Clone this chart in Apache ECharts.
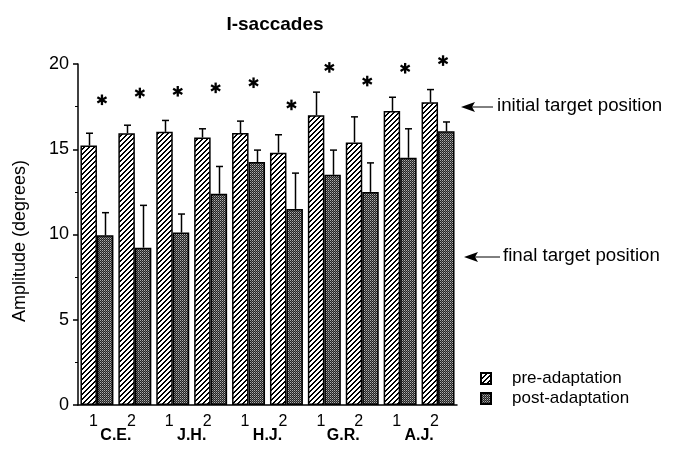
<!DOCTYPE html>
<html>
<head>
<meta charset="utf-8">
<script src="https://cdn.jsdelivr.net/npm/echarts@6/dist/echarts.min.js"></script>
<style>
  html, body { margin: 0; padding: 0; background: #fff; }
  #chart { width: 676px; height: 453px; }
</style>
</head>
<body>
<div id="chart"></div>
<script>
'use strict';

// condition index within each subject (1, 2)
var categories = ['1', '2', '1', '2', '1', '2', '1', '2', '1', '2'];
var subjects = ['C.E.', 'J.H.', 'H.J.', 'G.R.', 'A.J.'];

// mean amplitude (deg) and upper error (SD)
var preMean = [15.22, 15.94, 16.02, 15.69, 15.95, 14.8, 17.0, 15.4, 17.25, 17.75];
var preSD = [0.72, 0.47, 0.67, 0.51, 0.7, 1.05, 1.35, 1.5, 0.8, 0.75];
var postMean = [9.95, 9.23, 10.11, 12.39, 14.25, 11.5, 13.5, 12.5, 14.5, 16.05];
var postSD = [1.33, 2.48, 1.09, 1.6, 0.7, 2.1, 1.45, 1.7, 1.7, 0.55];

// height of the significance asterisks
var starLevel = [17.9, 18.3, 18.4, 18.6, 18.9, 17.6, 19.8, 19.0, 19.75, 20.2];

var FONT = '"Liberation Sans", Arial, Helvetica, sans-serif';
var GAP = 0.13;

// hatched / cross-hatched fills, drawn pixel by pixel
function makePattern(size, pick) {
    var c = document.createElement('canvas');
    c.width = size; c.height = size;
    var ctx = c.getContext('2d');
    var img = ctx.createImageData(size, size);
    for (var y = 0; y < size; y++) {
        for (var x = 0; x < size; x++) {
            var v = pick(x, y);
            var k = (y * size + x) * 4;
            img.data[k] = v; img.data[k + 1] = v; img.data[k + 2] = v; img.data[k + 3] = 255;
        }
    }
    ctx.putImageData(img, 0, 0);
    return { image: c, repeat: 'repeat' };
}

var hatch = makePattern(5, function (x, y) { return (x + y) % 5 < 2 ? 0 : 255; });
var cross = makePattern(2, function (x, y) {
    if (x === 0 && y === 0) return 175;
    if (x === 1 && y === 1) return 105;
    return 35;
});

function errData(mean, sd) {
    return mean.map(function (m, i) { return [i, m, m + sd[i]]; });
}

function errRender(side) {
    return function (params, api) {
        var base = api.coord([api.value(0), api.value(1)]);
        var hi = api.coord([api.value(0), api.value(2)]);
        var band = api.size([1, 0])[0];
        var bw = band * (1 - GAP) / 2;
        var x = Math.round(base[0] + side * bw / 2) + 0.5;
        var st = { stroke: '#000', lineWidth: 1.5 };
        return {
            type: 'group',
            children: [
                { type: 'line', shape: { x1: x, y1: base[1], x2: x, y2: hi[1] }, style: st },
                { type: 'line', shape: { x1: x - 3.5, y1: hi[1], x2: x + 3.5, y2: hi[1] }, style: st }
            ]
        };
    };
}

function starRender(params, api) {
    var p = api.coord([api.value(0), api.value(1)]);
    var cx = p[0] + 5, cy = p[1], r = 5.3;
    var kids = [];
    [90, 30, 150].forEach(function (a) {
        var t = a * Math.PI / 180;
        kids.push({
            type: 'line',
            shape: { x1: cx - r * Math.cos(t), y1: cy - r * Math.sin(t), x2: cx + r * Math.cos(t), y2: cy + r * Math.sin(t) },
            style: { stroke: '#000', lineWidth: 2.3 }
        });
    });
    return { type: 'group', children: kids };
}

function arrow(x0, x1, y) {
    return [
        { type: 'line', shape: { x1: x0 + 8, y1: y, x2: x1, y2: y }, style: { stroke: '#000', lineWidth: 1 } },
        { type: 'polygon', shape: { points: [[x0, y], [x0 + 14, y - 5], [x0 + 11, y], [x0 + 14, y + 5]] }, style: { fill: '#000' } }
    ];
}

var myChart = echarts.init(document.getElementById('chart'));

var option = {
    animation: false,
    backgroundColor: '#fff',
    textStyle: { fontFamily: FONT, color: '#000' },
    title: {
        text: 'I-saccades',
        left: 270,
        top: 10,
        textAlign: 'center',
        textStyle: { fontFamily: FONT, fontSize: 19, fontWeight: 'bold', color: '#000' }
    },
    legend: {
        orient: 'vertical',
        left: 480,
        top: 369,
        icon: 'rect',
        itemWidth: 10,
        itemHeight: 11,
        itemGap: 1,
        padding: 0,
        data: ['pre-adaptation', 'post-adaptation'],
        textStyle: { fontFamily: FONT, fontSize: 17, color: '#000', lineHeight: 19, padding: [0, 0, 0, 16] }
    },
    grid: { left: 78, right: 219, top: 64, bottom: 48 },
    xAxis: [{
        type: 'category',
        data: categories,
        axisLine: { lineStyle: { color: '#000', width: 1.5 } },
        axisTick: { length: 4, lineStyle: { color: '#000', width: 1.5 } },
        axisLabel: { color: '#000', fontSize: 16, fontFamily: FONT, margin: 9, padding: [0, 7, 0, 0] }
    }, {
        type: 'category',
        data: subjects,
        position: 'bottom',
        axisLine: { show: false },
        axisTick: { show: false },
        axisLabel: { color: '#000', fontSize: 16, fontWeight: 'bold', fontFamily: FONT, margin: 23 }
    }],
    yAxis: {
        type: 'value',
        min: 0,
        max: 20,
        interval: 5,
        splitLine: { show: false },
        axisLine: { show: true, lineStyle: { color: '#000', width: 1.5 } },
        axisTick: { show: true, length: 5, lineStyle: { color: '#000', width: 1.5 } },
        minorTick: { show: true, splitNumber: 2, length: 3, lineStyle: { color: '#000', width: 1 } },
        axisLabel: { color: '#000', fontSize: 18, fontFamily: FONT, margin: 9 }
    },
    series: [{
        name: 'pre-adaptation',
        type: 'bar',
        data: preMean,
        barGap: '0%',
        barCategoryGap: (GAP * 100) + '%',
        itemStyle: { color: hatch, borderColor: '#000', borderWidth: 1.5 }
    }, {
        name: 'post-adaptation',
        type: 'bar',
        data: postMean,
        itemStyle: { color: cross, borderColor: '#000', borderWidth: 1.5 }
    }, {
        type: 'custom',
        data: errData(preMean, preSD),
        encode: { x: 0, y: [1, 2] },
        renderItem: errRender(-1),
        z: 5
    }, {
        type: 'custom',
        data: errData(postMean, postSD),
        encode: { x: 0, y: [1, 2] },
        renderItem: errRender(1),
        z: 5
    }, {
        type: 'custom',
        data: starLevel.map(function (v, i) { return [i, v]; }),
        encode: { x: 0, y: 1 },
        renderItem: starRender,
        z: 5
    }],
    graphic: [{
        type: 'text',
        x: 20,
        y: 241,
        rotation: Math.PI / 2,
        style: { text: 'Amplitude (degrees)', font: '18px ' + FONT, fill: '#000', align: 'center', verticalAlign: 'middle' }
    }, {
        type: 'group',
        children: arrow(461, 493, 107).concat([{
            type: 'text', x: 497, y: 106,
            style: { text: 'initial target position', font: '18.7px ' + FONT, fill: '#000', verticalAlign: 'middle' }
        }])
    }, {
        type: 'group',
        children: arrow(464, 500, 257).concat([{
            type: 'text', x: 503, y: 256,
            style: { text: 'final target position', font: '18.7px ' + FONT, fill: '#000', verticalAlign: 'middle' }
        }])
    }]
};

myChart.setOption(option);
</script>
</body>
</html>
